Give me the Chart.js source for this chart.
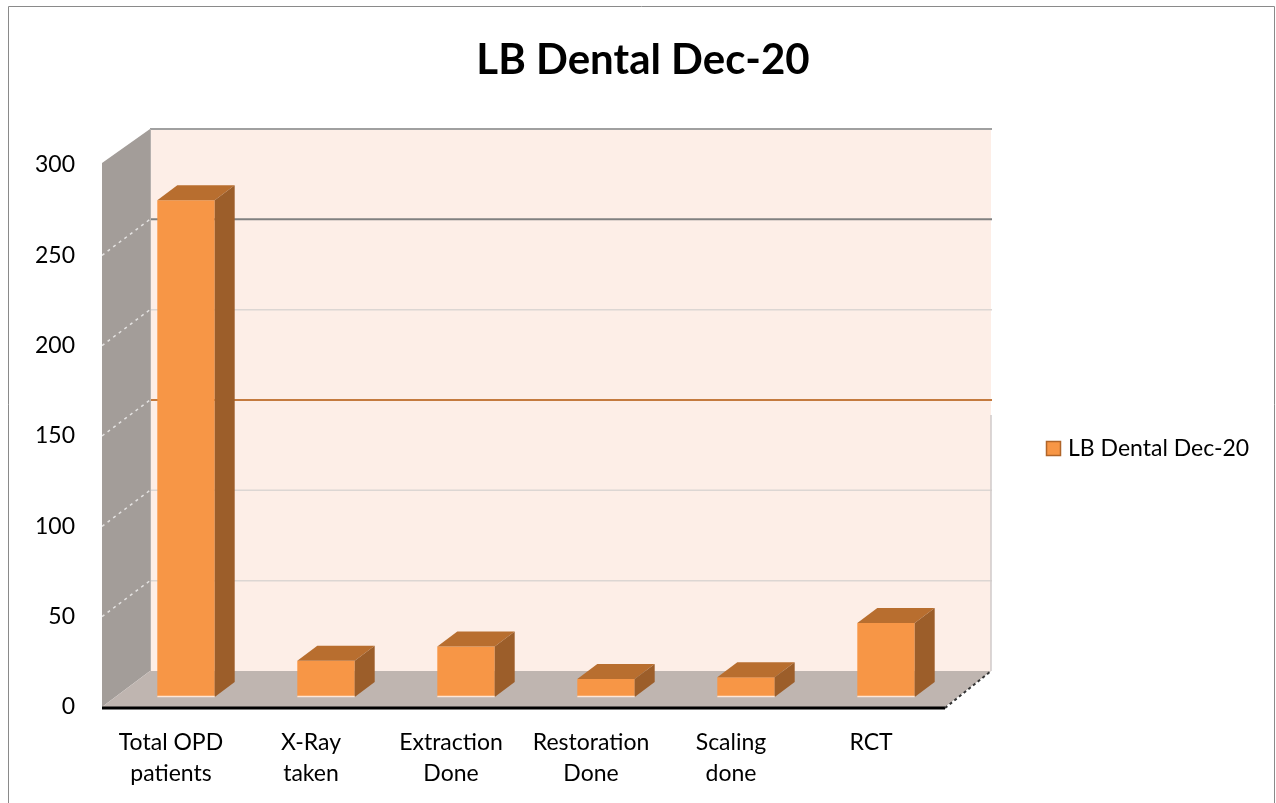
<!DOCTYPE html>
<html>
<head>
<meta charset="utf-8">
<script src="https://cdn.jsdelivr.net/npm/chart.js@4.4.0/dist/chart.umd.min.js"></script>
<style>
html,body{margin:0;padding:0;background:#fff;}
#wrap{position:relative;width:1276px;height:803px;}
canvas{display:block;}
</style>
</head>
<body>
<div id="wrap"><canvas id="c" width="1276" height="803"></canvas></div>
<script>
const chartTitle = "LB Dental Dec-20";
const seriesName = "LB Dental Dec-20";
const categories = [["Total OPD","patients"],["X-Ray","taken"],["Extraction","Done"],["Restoration","Done"],["Scaling","done"],["RCT"]];
const values = [275, 20, 28, 10, 11, 41];
const yTicks = [0, 50, 100, 150, 200, 250, 300];

const FONT = "Lato, 'Liberation Sans', sans-serif";
const DEPTH = {dx: 45, dy: -36};
const BAR_SHIFT = {dx: 11, dy: -10};
const BAR_DEPTH = {dx: 20, dy: -15};

const deco = {
  id: 'deco',
  beforeDatasetsDraw(chart) {
    const ctx = chart.ctx, a = chart.chartArea, y = chart.scales.y;
    const L = a.left, R = a.right, B = a.bottom;
    const T = y.getPixelForValue(300);
    ctx.save();
    // back wall
    ctx.fillStyle = '#fdeee7';
    ctx.fillRect(L + DEPTH.dx, T + DEPTH.dy, (R + 46) - (L + DEPTH.dx), B - T);
    // back wall grid lines
    yTicks.forEach(v => {
      if (v === 0) return;
      const py = y.getPixelForValue(v) + DEPTH.dy;
      let col = '#dcd6d3', lw = 1.5;
      if (v === 250) { col = '#808080'; lw = 2; }
      if (v === 150) { col = '#c47a3e'; lw = 2; }
      if (v === 300) { col = '#a0a0a0'; lw = 2; }
      ctx.strokeStyle = col; ctx.lineWidth = lw;
      ctx.beginPath(); ctx.moveTo(L + DEPTH.dx, py); ctx.lineTo(R + 47, py); ctx.stroke();
    });
    // right edge of back wall
    ctx.strokeStyle = '#cfcaca'; ctx.lineWidth = 1.5;
    ctx.beginPath(); ctx.moveTo(R + 46, y.getPixelForValue(150) + DEPTH.dy + 15); ctx.lineTo(R + 46, B + DEPTH.dy); ctx.stroke();
    // side wall
    ctx.fillStyle = '#a39d99';
    ctx.beginPath();
    ctx.moveTo(L - 3, B);
    ctx.lineTo(L + DEPTH.dx, B + DEPTH.dy);
    ctx.lineTo(L + DEPTH.dx, T + DEPTH.dy);
    ctx.lineTo(L - 3, T - 2);
    ctx.closePath(); ctx.fill();
    // dashed marks on side wall
    ctx.setLineDash([3, 4]);
    ctx.strokeStyle = 'rgba(255,255,255,0.7)'; ctx.lineWidth = 1.5;
    yTicks.forEach(v => {
      if (v === 0 || v === 300) return;
      const py = y.getPixelForValue(v);
      ctx.beginPath(); ctx.moveTo(L - 3, py); ctx.lineTo(L + DEPTH.dx, py + DEPTH.dy); ctx.stroke();
    });
    ctx.setLineDash([]);
    // back wall left edge
    ctx.strokeStyle = '#b5b0ae'; ctx.lineWidth = 1;
    ctx.beginPath(); ctx.moveTo(L + DEPTH.dx + 0.5, T + DEPTH.dy); ctx.lineTo(L + DEPTH.dx + 0.5, B + DEPTH.dy); ctx.stroke();
    // floor
    ctx.fillStyle = '#bfb5b0';
    ctx.beginPath();
    ctx.moveTo(L - 3, B);
    ctx.lineTo(R, B);
    ctx.lineTo(R + 46, B + DEPTH.dy);
    ctx.lineTo(L + DEPTH.dx, B + DEPTH.dy);
    ctx.closePath(); ctx.fill();
    // floor front edge
    ctx.strokeStyle = '#000'; ctx.lineWidth = 3;
    ctx.beginPath(); ctx.moveTo(L - 3, B + 1); ctx.lineTo(R, B + 1); ctx.stroke();
    // floor right edge
    ctx.setLineDash([3, 3]);
    ctx.strokeStyle = '#333'; ctx.lineWidth = 2;
    ctx.beginPath(); ctx.moveTo(R, B + 1); ctx.lineTo(R + 46, B + DEPTH.dy); ctx.stroke();
    ctx.setLineDash([]);
    ctx.restore();
    // shift bars into depth
    ctx.save();
    ctx.translate(BAR_SHIFT.dx, BAR_SHIFT.dy);
  },
  afterDatasetsDraw(chart) {
    const ctx = chart.ctx;
    const meta = chart.getDatasetMeta(0);
    meta.data.forEach(bar => {
      const p = bar.getProps(['x', 'y', 'base', 'width'], true);
      const l = p.x - p.width / 2, r = p.x + p.width / 2, t = p.y, b = p.base;
      // top face
      ctx.fillStyle = '#b86e2f';
      ctx.beginPath();
      ctx.moveTo(l, t); ctx.lineTo(r, t);
      ctx.lineTo(r + BAR_DEPTH.dx, t + BAR_DEPTH.dy);
      ctx.lineTo(l + BAR_DEPTH.dx, t + BAR_DEPTH.dy);
      ctx.closePath(); ctx.fill();
      // side face
      ctx.fillStyle = '#9c5e2a';
      ctx.beginPath();
      ctx.moveTo(r, t); ctx.lineTo(r + BAR_DEPTH.dx, t + BAR_DEPTH.dy);
      ctx.lineTo(r + BAR_DEPTH.dx, b + BAR_DEPTH.dy);
      ctx.lineTo(r, b);
      ctx.closePath(); ctx.fill();
      // light bottom edge
      ctx.strokeStyle = 'rgba(255,240,230,0.9)'; ctx.lineWidth = 1.5;
      ctx.beginPath(); ctx.moveTo(l, b - 0.5); ctx.lineTo(r, b - 0.5); ctx.stroke();
    });
    ctx.restore();
  },
  afterDraw(chart) {
    const ctx = chart.ctx;
    ctx.save();
    // frame
    ctx.strokeStyle = '#8a8a8a'; ctx.lineWidth = 1;
    ctx.beginPath();
    ctx.moveTo(8.5, 803); ctx.lineTo(8.5, 6.5); ctx.lineTo(1274.5, 6.5); ctx.lineTo(1274.5, 803);
    ctx.stroke();
    // title
    ctx.fillStyle = '#000';
    ctx.font = "bold 42px " + FONT;
    ctx.textAlign = 'center'; ctx.textBaseline = 'middle';
    ctx.fillText(chartTitle, 643, 60);
    // legend
    ctx.fillStyle = '#f79646';
    ctx.fillRect(1046.5, 441.5, 14, 14);
    ctx.strokeStyle = '#b0652a'; ctx.lineWidth = 1.5;
    ctx.strokeRect(1046.5, 441.5, 14, 14);
    ctx.fillStyle = '#000';
    ctx.font = "23px " + FONT;
    ctx.textAlign = 'left'; ctx.textBaseline = 'middle';
    ctx.fillText(seriesName, 1068, 449);
    ctx.restore();
  }
};

new Chart(document.getElementById('c'), {
  type: 'bar',
  data: {
    labels: categories,
    datasets: [{
      label: seriesName,
      data: values,
      backgroundColor: '#f79646',
      borderWidth: 0,
      barPercentage: 0.41,
      categoryPercentage: 1
    }]
  },
  options: {
    responsive: false,
    animation: false,
    layout: {padding: {top: 165, right: 331, bottom: 0, left: 0}},
    plugins: {legend: {display: false}, title: {display: false}, tooltip: {enabled: false}},
    scales: {
      x: {
        grid: {display: false, drawTicks: false},
        border: {display: false},
        ticks: {font: {family: FONT, size: 23, lineHeight: 1.35}, color: '#000', padding: 20, maxRotation: 0, autoSkip: false, labelOffset: -4},
        afterFit(s) { s.height = 96; }
      },
      y: {
        min: 0, max: 300,
        grid: {display: false, drawTicks: false},
        border: {display: false},
        afterBuildTicks(s) { s.ticks = yTicks.map(v => ({value: v})); },
        ticks: {font: {family: FONT, size: 23}, color: '#000', padding: 30},
        afterFit(s) { s.width = 105; }
      }
    }
  },
  plugins: [deco]
});
</script>
</body>
</html>
